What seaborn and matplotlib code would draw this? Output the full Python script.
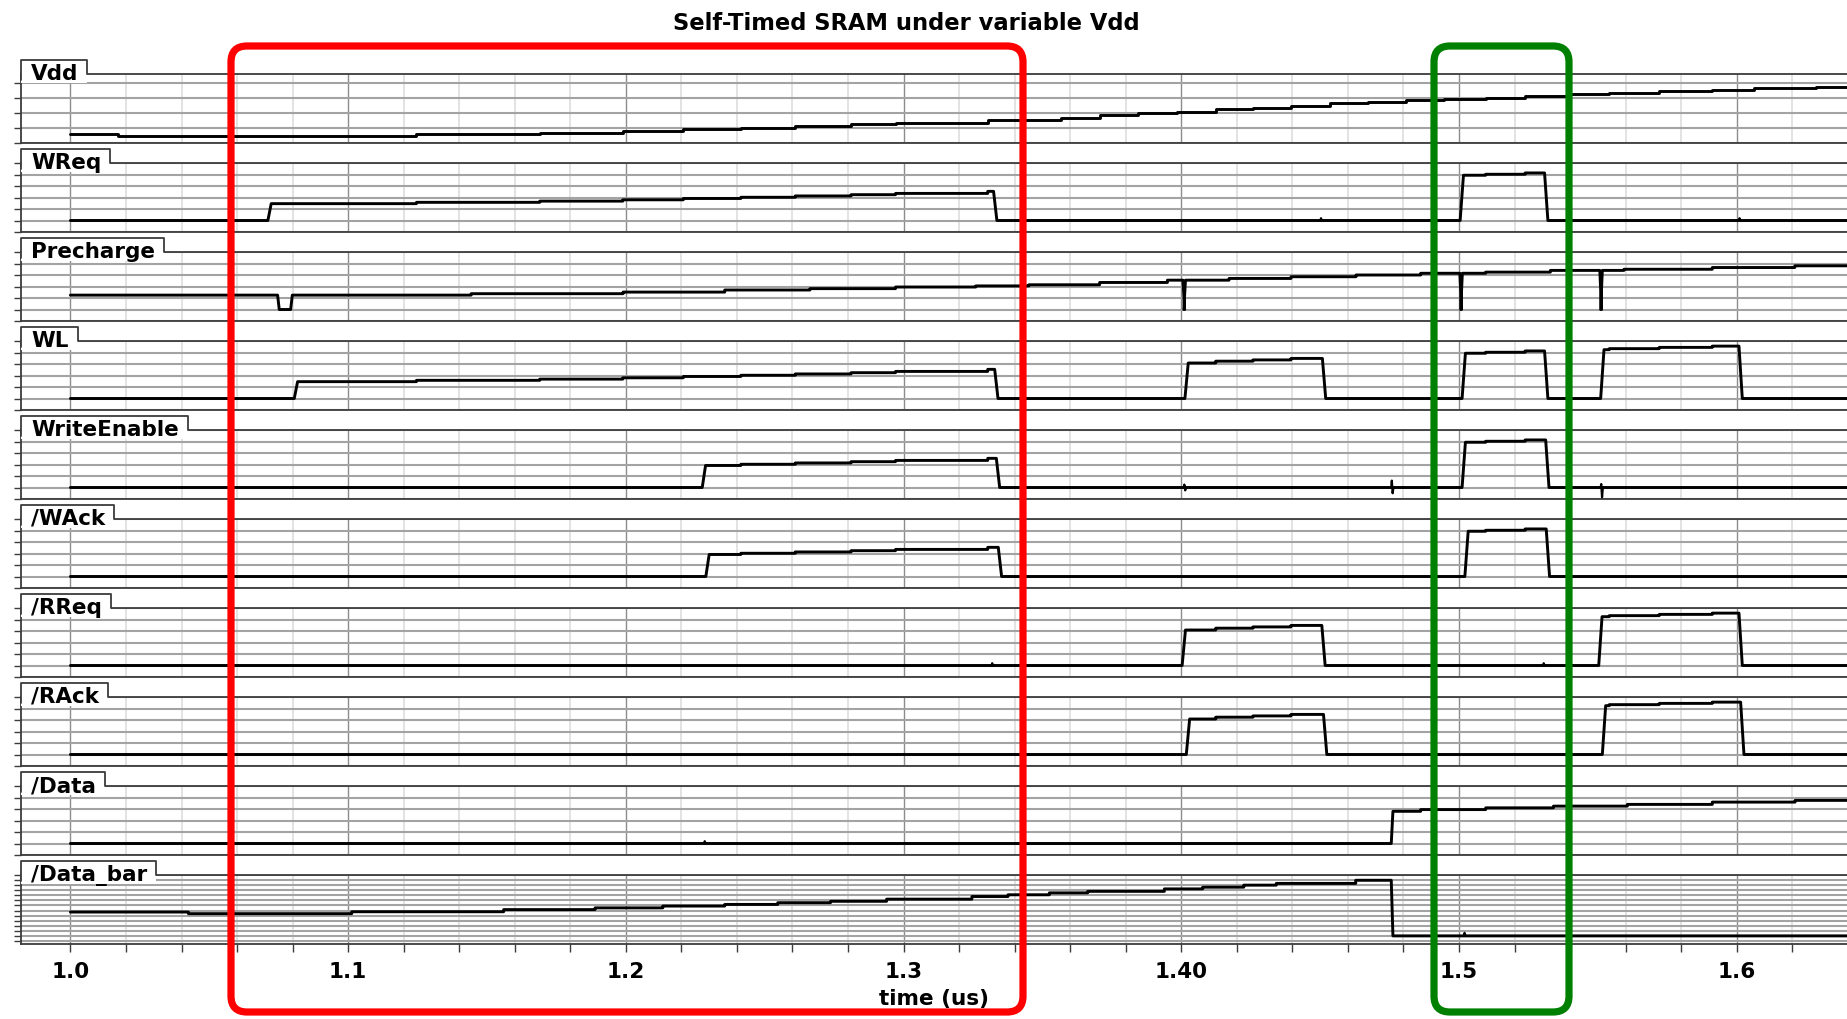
import numpy as np
import matplotlib
matplotlib.use("Agg")
import matplotlib.pyplot as plt
import seaborn as sns
from matplotlib.patches import Rectangle, FancyBboxPatch
from matplotlib.lines import Line2D
from matplotlib.transforms import IdentityTransform

# ---------------- data ----------------
title = "Self-Timed SRAM under variable Vdd"
signal_names = ["Vdd", "WReq", "Precharge", "WL", "WriteEnable",
                "/WAck", "/RReq", "/RAck", "/Data", "/Data_bar"]
x_major = [1.0, 1.1, 1.2, 1.3, 1.4, 1.5, 1.6]
x_major_labels = ["1.0", "1.1", "1.2", "1.3", "1.40", "1.5", "1.6"]
x_label = "time (us)"

# Vdd staircase (us, V)
vdd_t = [1.0, 1.017, 1.1246, 1.169, 1.1989, 1.2207, 1.2414, 1.261, 1.2811, 1.2971,
         1.3303, 1.3568, 1.3706, 1.3844, 1.3986, 1.4124, 1.4258, 1.4395, 1.4534, 1.4672,
         1.481, 1.4947, 1.5096, 1.5238, 1.5392, 1.5541, 1.5721, 1.5912, 1.6061, 1.6284]
vdd_v = [0.316, 0.293, 0.316, 0.337, 0.36, 0.383, 0.404, 0.427, 0.449, 0.471,
         0.507, 0.537, 0.569, 0.596, 0.617, 0.649, 0.671, 0.697, 0.729, 0.751,
         0.773, 0.787, 0.804, 0.827, 0.849, 0.867, 0.889, 0.911, 0.929, 0.951]

# digital handshake signals: rising / falling edge times (us)
wreq_rise = [1.0711, 1.5004]
wreq_fall = [1.3324, 1.5308]
wl_rise = [1.0806, 1.4013, 1.5011, 1.5510]
wl_fall = [1.3328, 1.4508, 1.5308, 1.6008]
we_rise = [1.2275, 1.5011]
we_fall = [1.3334, 1.5312]
wack_rise = [1.2288, 1.5021]
wack_fall = [1.3341, 1.5314]
rreq_rise = [1.4003, 1.5503]
rreq_fall = [1.4506, 1.6008]
rack_rise = [1.4018, 1.5516]
rack_fall = [1.4512, 1.6014]

# Precharge: baseline staircase and dips to 0 V
pre_t = [1.0, 1.1443, 1.199, 1.2356, 1.2663, 1.2971, 1.326, 1.3451, 1.3706, 1.395,
         1.4172, 1.4395, 1.4629, 1.4862, 1.5096, 1.5329, 1.5594, 1.5912, 1.6209]
pre_v = [0.25, 0.275, 0.303, 0.339, 0.363, 0.391, 0.41, 0.43, 0.47, 0.51,
         0.54, 0.57, 0.60, 0.63, 0.65, 0.68, 0.70, 0.73, 0.76]
pre_dip_start = [1.0746, 1.4006, 1.5003, 1.5507]
pre_dip_end = [1.0793, 1.4009, 1.5006, 1.5510]

# /Data after the write
data_t = [1.4756, 1.4862, 1.5096, 1.534, 1.5606, 1.5912, 1.621]
data_v = [0.56, 0.59, 0.62, 0.65, 0.68, 0.72, 0.75]
data_rise = [1.4756]

# /Data_bar before the write
dbar_t = [1.0, 1.0425, 1.1013, 1.156, 1.1889, 1.2133, 1.2356, 1.2547, 1.2737, 1.2939,
          1.3246, 1.3376, 1.3525, 1.3663, 1.3939, 1.4077, 1.4225, 1.4342, 1.4628]
dbar_v = [0.235, 0.219, 0.238, 0.259, 0.276, 0.294, 0.310, 0.327, 0.341, 0.362,
          0.388, 0.405, 0.424, 0.439, 0.463, 0.480, 0.500, 0.517, 0.548]
dbar_fall = [1.4756]

# small glitches on the low level: (time, up excursion, down excursion)
glitch_wreq = [(1.4501, 0.04, 0.0), (1.6008, 0.04, 0.0)]
glitch_we = [(1.4009, 0.05, -0.05), (1.4756, 0.12, -0.10), (1.5510, 0.06, -0.17)]
glitch_rreq = [(1.3317, 0.04, 0.0), (1.5303, 0.04, 0.0)]
glitch_data = [(1.2282, 0.04, 0.0)]
glitch_dbar = [(1.5018, 0.03, 0.0)]

# ---------------- figure layout ----------------
W, H = 1847, 1020
T0, T1 = 0.9821, 1.6397
sns.set_style("white")
plt.rcParams["font.family"] = ["DejaVu Sans"]

fig = plt.figure(figsize=(W / 100, H / 100), dpi=100)


def fx(x):
    return x / W


def fy(y):
    return 1 - y / H


def build(lev_t, lev_v, highs, tr=0.0012, t_start=1.0, t_end=T1):
    lev_t = np.asarray(lev_t)

    def lev(t):
        i = np.searchsorted(lev_t, t, side="right") - 1
        return lev_v[max(i, 0)]

    def is_hi(t):
        return any(a <= t < b for a, b in highs)

    ev = [(s, 0) for s in lev_t[1:]]
    for a, b in highs:
        ev.append((a, 1))
        ev.append((b, 2))
    ev.sort()
    xs = [t_start]
    ys = [lev(t_start) if is_hi(t_start) else 0.0]
    for t, k in ev:
        if t <= t_start or t >= t_end:
            continue
        if k == 0:
            if is_hi(t):
                xs += [t, t]
                ys += [lev(t - 1e-9), lev(t)]
        elif k == 1:
            xs += [t, t + tr]
            ys += [0.0, lev(t + tr)]
        else:
            xs += [t, t + tr]
            ys += [lev(t), 0.0]
    xs.append(t_end)
    ys.append(ys[-1])
    return xs, ys


def digital(rise, fall, tr=0.0012):
    return build(vdd_t, vdd_v, list(zip(rise, fall)), tr=tr)


waves = {}
waves["Vdd"] = build(vdd_t, vdd_v, [(1.0, 9.0)])
waves["WReq"] = digital(wreq_rise, wreq_fall)
pre_highs = list(zip([1.0] + pre_dip_end, pre_dip_start + [9.0]))
waves["Precharge"] = build(pre_t, pre_v, pre_highs, tr=0.0006)
waves["WL"] = digital(wl_rise, wl_fall)
waves["WriteEnable"] = digital(we_rise, we_fall)
waves["/WAck"] = digital(wack_rise, wack_fall)
waves["/RReq"] = digital(rreq_rise, rreq_fall)
waves["/RAck"] = digital(rack_rise, rack_fall)
waves["/Data"] = build(data_t, data_v, [(data_rise[0], 9.0)], tr=0.0006)
waves["/Data_bar"] = build(dbar_t, dbar_v, [(1.0, dbar_fall[0])], tr=0.0006)

glitches = {"WReq": glitch_wreq, "WriteEnable": glitch_we, "/RReq": glitch_rreq,
            "/Data": glitch_data, "/Data_bar": glitch_dbar}

digital_ylim = (-0.2, 1.0)
digital_yticks = [-0.2, 0.0, 0.2, 0.4, 0.6, 0.8, 1.0]
ylims = {n: digital_ylim for n in signal_names}
yticks = {n: digital_yticks for n in signal_names}
ylims["Vdd"] = (0.2, 1.12)
yticks["Vdd"] = [0.2, 0.4, 0.6, 0.8, 1.0]
ylims["/Data_bar"] = (-0.08, 0.6)
yticks["/Data_bar"] = [round(-0.05 + 0.05 * k, 2) for k in range(14)]

x_minor = [round(1.0 + 0.02 * k, 2) for k in range(32) if k % 5 != 0]

PANEL_TOP0, PITCH, PANEL_H, LEFT = 75, 89, 69, 20.7
frame_col = "#3c3c3c"

axes = []
for i, name in enumerate(signal_names):
    top = PANEL_TOP0 + PITCH * i
    ax = fig.add_axes([fx(LEFT), fy(top + PANEL_H), 1 - fx(LEFT), PANEL_H / H])
    axes.append(ax)
    xs, ys = waves[name]
    sns.lineplot(x=xs, y=ys, ax=ax, color="black", lw=2.1, estimator=None,
                 sort=False, legend=False, zorder=5)
    for (gt, up, dn) in glitches.get(name, []):
        gx = [gt, gt + 0.0002, gt + 0.0005, gt + 0.0008]
        gy = [0.0, up, dn, 0.0]
        sns.lineplot(x=gx, y=gy, ax=ax, color="black", lw=1.6, estimator=None,
                     sort=False, legend=False, zorder=5)
    ax.set_xlim(T0, T1)
    ax.set_ylim(*ylims[name])
    ax.set_xticks(x_major)
    ax.set_xticks(x_minor, minor=True)
    ax.set_yticks(yticks[name])
    ax.grid(which="major", axis="x", color="#8c8c8c", lw=1.0, zorder=1)
    ax.grid(which="minor", axis="x", color="#e0e0e0", lw=1.3, zorder=1)
    ax.grid(which="major", axis="y", color="#a3a3a3", lw=1.5, zorder=1)
    ax.set_axisbelow(True)
    for s in ["left", "top", "bottom"]:
        ax.spines[s].set_color(frame_col)
        ax.spines[s].set_linewidth(1.3)
    ax.spines["right"].set_visible(False)
    ax.tick_params(axis="y", which="major", direction="out", length=5, width=1.0,
                   color=frame_col, labelleft=False, left=True)
    ax.set_ylabel("")
    ax.set_xlabel("")
    if i < len(signal_names) - 1:
        ax.tick_params(axis="x", which="both", length=0, labelbottom=False)
    else:
        ax.set_xticklabels(x_major_labels)
        ax.tick_params(axis="x", which="both", direction="out", length=6, width=1.0,
                       color=frame_col, bottom=True, pad=6, labelsize=15.5,
                       labelcolor="black")
        for lab in ax.get_xticklabels():
            lab.set_fontweight("bold")

# x axis title, centred under the plot area
fig.text(fx((LEFT + W) / 2), fy(999), x_label, ha="center", va="center",
         fontsize=15.5, fontweight="bold", color="black")

# label tabs
renderer = fig.canvas.get_renderer()
for i, name in enumerate(signal_names):
    top = PANEL_TOP0 + PITCH * i
    txt = fig.text(fx(31), fy(top + 5), name, fontsize=15.5, fontweight="bold",
                   ha="left", va="baseline", zorder=12, color="black")
    bb = txt.get_window_extent(renderer=renderer)
    right = bb.x1 + 9
    fig.add_artist(Rectangle((fx(LEFT), fy(top + 9)), fx(right - LEFT), 23 / H,
                             transform=fig.transFigure, fc="white", ec="none", zorder=10))
    fig.add_artist(Line2D([fx(LEFT), fx(LEFT), fx(right), fx(right)],
                          [fy(top + 6), fy(top - 14), fy(top - 14), fy(top)],
                          transform=fig.transFigure, color=frame_col, lw=1.3, zorder=11))

fig.text(fx(906), fy(23), title, ha="center", va="center", fontsize=16.3,
         fontweight="bold", color="black")

# highlight boxes (pixel coordinates, origin bottom-left)
for (x0, x1, col) in [(231, 1023, "#ff0000"), (1434, 1569, "#008000")]:
    y_top, y_bot = 47, 1013
    box = FancyBboxPatch((x0, H - y_bot), x1 - x0, y_bot - y_top,
                         boxstyle="round,pad=0,rounding_size=16",
                         transform=IdentityTransform(), fill=False, ec=col,
                         lw=5.2, zorder=20)
    fig.add_artist(box)

fig.savefig("out.png", dpi=100)
